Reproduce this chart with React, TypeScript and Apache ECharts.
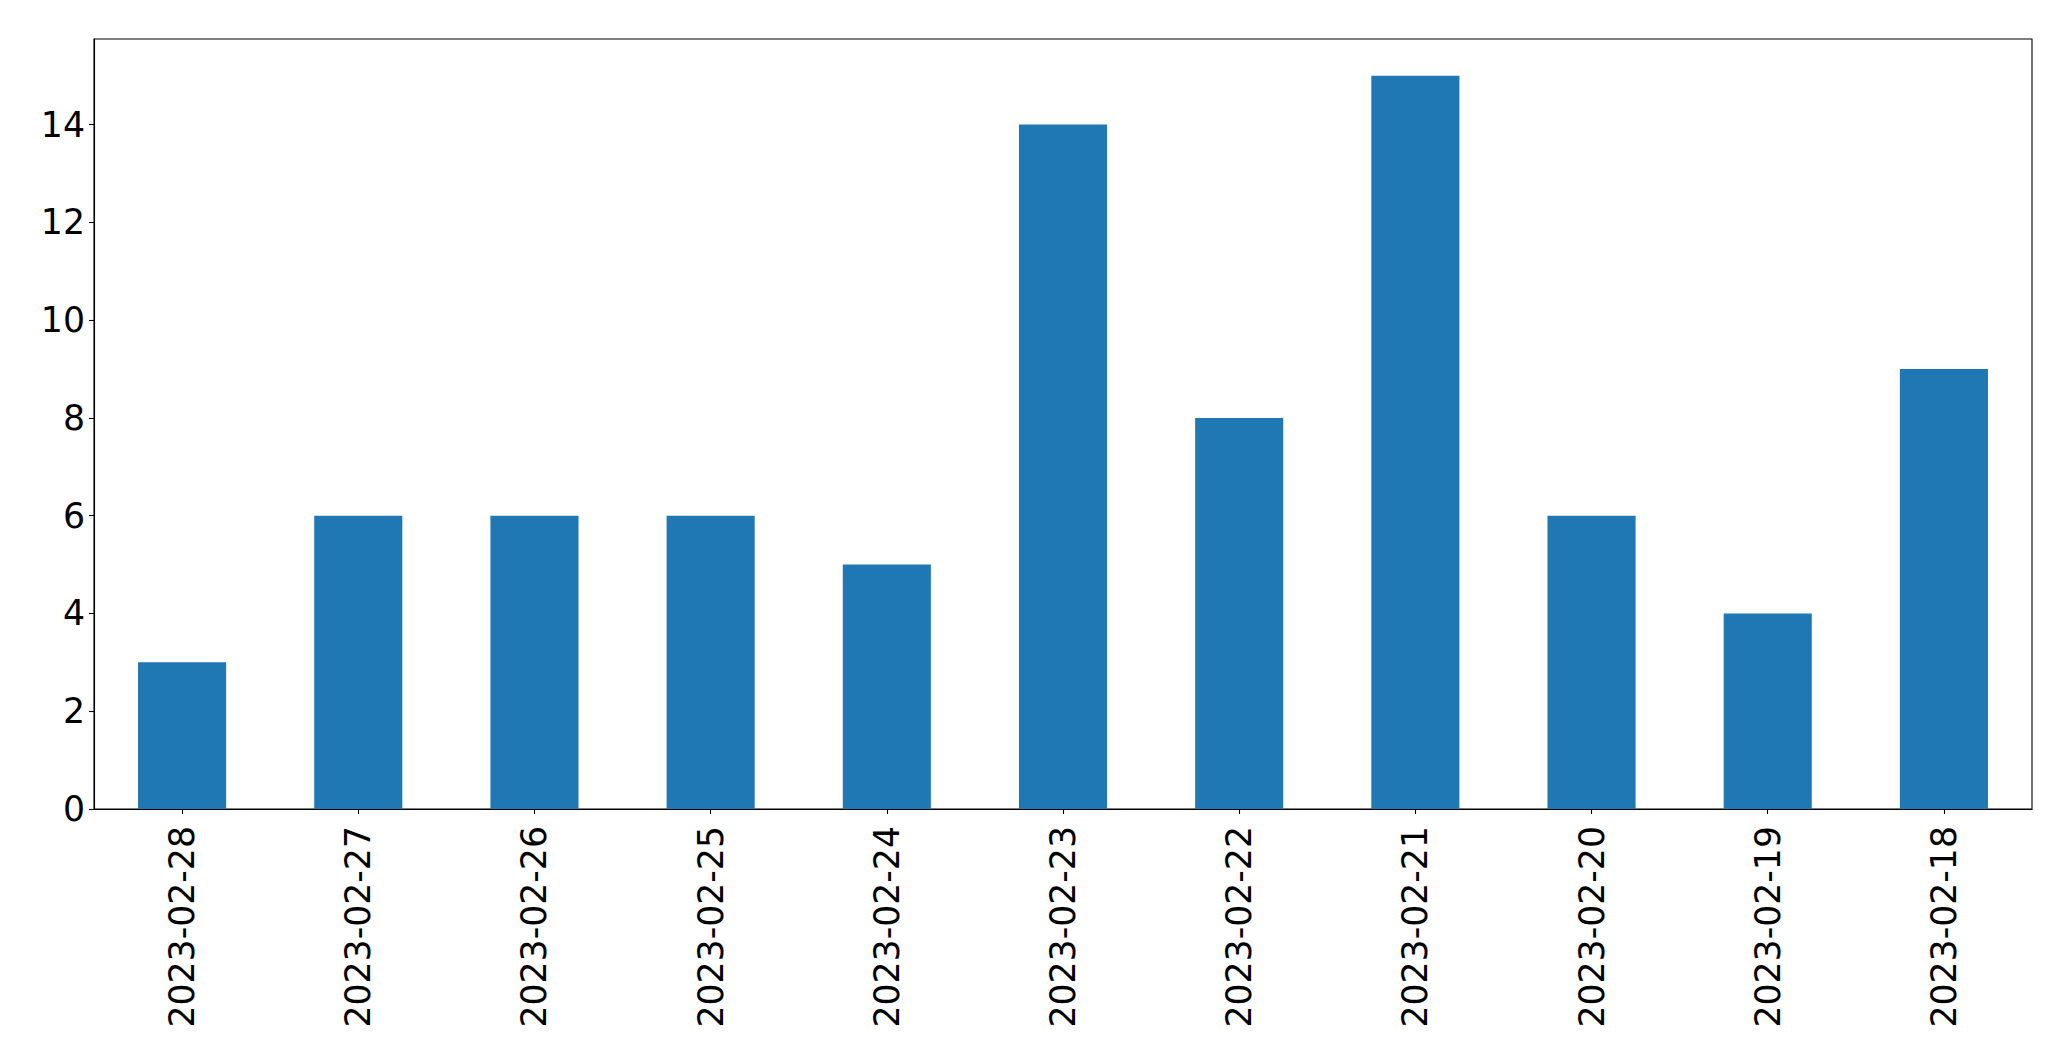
import React, { useEffect, useRef } from "react";
import * as echarts from "echarts";

const categories = [
  "2023-02-28",
  "2023-02-27",
  "2023-02-26",
  "2023-02-25",
  "2023-02-24",
  "2023-02-23",
  "2023-02-22",
  "2023-02-21",
  "2023-02-20",
  "2023-02-19",
  "2023-02-18",
];
const values = [3, 6, 6, 6, 5, 14, 8, 15, 6, 4, 9];
const yTicks = [0, 2, 4, 6, 8, 10, 12, 14];
const yMax = 15.75;

export default function App() {
  const ref = useRef<HTMLDivElement>(null);
  useEffect(() => {
    if (!ref.current) return;
    const chart = echarts.init(ref.current, undefined, { renderer: "svg" });
    const font = "DejaVu Sans";
    chart.setOption({
      animation: false,
      backgroundColor: "#ffffff",
      grid: {
        left: 94,
        top: 39,
        width: 1938,
        height: 770,
        show: true,
        borderColor: "#000000",
        borderWidth: 1.1,
        backgroundColor: "transparent",
      },
      xAxis: {
        type: "category",
        data: categories,
        axisLine: { show: true, lineStyle: { color: "#000000", width: 1.1 } },
        axisTick: {
          show: true,
          alignWithLabel: true,
          length: 5,
          lineStyle: { color: "#000000", width: 1.1 },
        },
        axisLabel: {
          rotate: 90,
          margin: 17,
          fontFamily: font,
          fontSize: 34.7,
          color: "#000000",
          interval: 0,
        },
        splitLine: { show: false },
      },
      yAxis: {
        type: "value",
        min: 0,
        max: yMax,
        interval: 2,
        axisLine: { show: true, lineStyle: { color: "#000000", width: 1.1 } },
        axisTick: {
          show: true,
          length: 5,
          customValues: yTicks,
          lineStyle: { color: "#000000", width: 1.1 },
        },
        axisLabel: {
          margin: 9,
          fontFamily: font,
          fontSize: 34.7,
          color: "#000000",
          customValues: yTicks,
          formatter: (v: number) => (v % 2 === 0 ? String(v) : ""),
        },
        splitLine: { show: false },
      },
      series: [
        {
          type: "bar",
          data: values,
          barWidth: "50%",
          itemStyle: { color: "#1f77b4" },
        },
      ],
    });
    return () => chart.dispose();
  }, []);
  return (
    <div
      ref={ref}
      style={{ position: "fixed", left: 0, top: 0, width: 2071, height: 1061 }}
    />
  );
}
